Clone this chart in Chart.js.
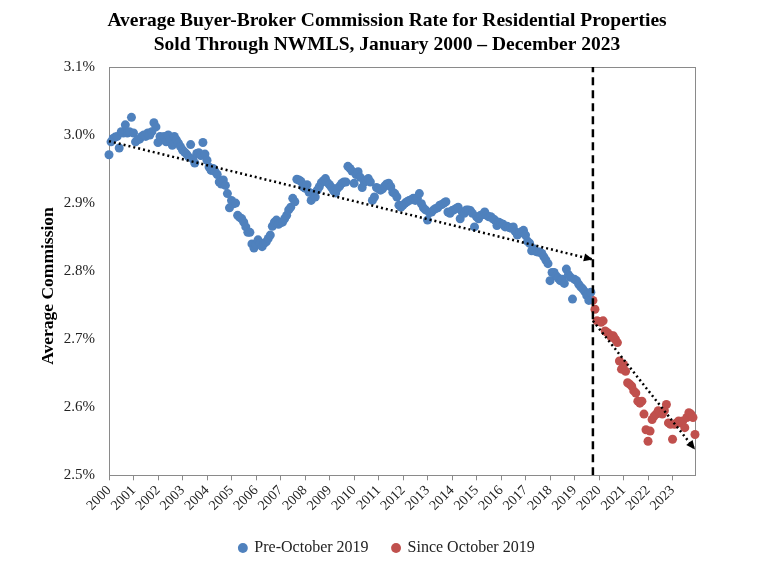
<!DOCTYPE html>
<html><head><meta charset="utf-8">
<script src="https://cdn.jsdelivr.net/npm/chart.js@4/dist/chart.umd.min.js"></script>
<style>html,body{margin:0;padding:0;background:#fff}</style>
</head><body>
<canvas id="c" width="768" height="574"></canvas>
<script>
// ---- DATA ----
const titleLines = ['Average Buyer-Broker Commission Rate for Residential Properties', 'Sold Through NWMLS, January 2000 \u2013 December 2023'];
const yAxisTitle = 'Average Commission';
const yearLabels = ['2000','2001','2002','2003','2004','2005','2006','2007','2008','2009','2010','2011','2012','2013','2014','2015','2016','2017','2018','2019','2020','2021','2022','2023'];
const lastMonth = 287;             // Dec 2023, months since Jan 2000
const preStartMonth = 0;           // Jan 2000
const preValues = [
 2.971,2.990,2.995,2.997,2.998,2.981,3.005,3.003,3.015,3.003,3.005,3.026,
 3.003,2.990,2.993,2.994,2.998,3.000,2.998,3.003,3.000,3.005,3.018,3.012,
 2.989,2.998,2.993,2.998,2.990,3.000,2.994,2.985,2.998,2.993,2.988,2.983,
 2.978,2.975,2.972,2.968,2.986,2.965,2.959,2.973,2.974,2.970,2.989,2.972,
 2.963,2.953,2.948,2.951,2.946,2.942,2.931,2.928,2.934,2.926,2.914,2.893,
 2.904,2.899,2.900,2.882,2.879,2.877,2.872,2.865,2.857,2.857,2.840,2.834,
 2.839,2.846,2.841,2.836,2.841,2.843,2.848,2.853,2.866,2.872,2.875,2.869,
 2.871,2.872,2.877,2.882,2.890,2.894,2.907,2.902,2.935,2.934,2.932,2.924,
 2.922,2.927,2.916,2.904,2.914,2.909,2.919,2.924,2.930,2.933,2.936,2.930,
 2.927,2.923,2.918,2.915,2.922,2.925,2.929,2.931,2.931,2.954,2.951,2.947,
 2.929,2.942,2.946,2.938,2.923,2.931,2.934,2.936,2.931,2.904,2.909,2.923,
 2.921,2.919,2.921,2.925,2.928,2.929,2.924,2.916,2.914,2.909,2.897,2.894,
 2.897,2.900,2.902,2.904,2.905,2.907,2.904,2.907,2.914,2.899,2.893,2.890,
 2.875,2.886,2.887,2.890,2.892,2.893,2.897,2.898,2.900,2.902,2.887,2.885,
 2.889,2.890,2.892,2.894,2.877,2.887,2.885,2.890,2.890,2.889,2.885,2.865,
 2.880,2.877,2.882,2.883,2.887,2.882,2.880,2.880,2.877,2.875,2.867,2.872,
 2.870,2.869,2.865,2.866,2.864,2.863,2.865,2.858,2.853,2.856,2.858,2.860,
 2.853,2.844,2.841,2.830,2.833,2.829,2.828,2.828,2.826,2.821,2.816,2.811,
 2.786,2.798,2.798,2.793,2.790,2.786,2.788,2.782,2.803,2.795,2.791,2.759,
 2.788,2.786,2.781,2.777,2.774,2.770,2.764,2.757,2.769
];
const postStartMonth = 237;        // Oct 2019
const postValues = [
 2.757,2.744,2.727,
 2.726,2.725,2.727,2.712,2.710,2.707,2.703,2.705,2.700,2.695,2.668,2.656,
 2.663,2.653,2.636,2.634,2.631,2.624,2.621,2.609,2.606,2.609,2.590,2.567,
 2.550,2.565,2.582,2.587,2.590,2.595,2.592,2.590,2.595,2.604,2.577,2.575,
 2.553,2.575,2.577,2.580,2.577,2.580,2.570,2.585,2.592,2.590,2.585,2.560
];
const preTrendMonths = [0, 237];
const preTrendValues = [2.991, 2.817];
const postTrendMonths = [237, 287];
const postTrendValues = [2.727, 2.538];
const dividerMonth = 237;
const yMin = 2.5, yMax = 3.1;

// ---- BUILD ----
const toPts = (start, vals) => vals.map((v, i) => ({x: start + i, y: v}));
const pair = (ms, vs) => ms.map((m, i) => ({x: m, y: vs[i]}));
const SERIF = "'Liberation Serif', 'Times New Roman', serif";
const AXIS = '#8a8a8a';

const boxPlugin = {
  id: 'box',
  beforeDatasetsDraw(chart) {
    const {ctx, chartArea: a} = chart;
    ctx.save();
    ctx.strokeStyle = AXIS; ctx.lineWidth = 1;
    ctx.strokeRect(Math.round(a.left) + 0.5, Math.round(a.top) + 0.5, Math.round(a.right - a.left), Math.round(a.bottom - a.top));
    ctx.restore();
  }
};
const arrowPlugin = {
  id: 'arrows',
  afterDatasetsDraw(chart) {
    const ctx = chart.ctx;
    [0, 1].forEach(i => {
      const pts = chart.getDatasetMeta(i).data;
      const a = pts[pts.length - 2], b = pts[pts.length - 1];
      const ang = Math.atan2(b.y - a.y, b.x - a.x);
      ctx.save();
      ctx.translate(b.x, b.y); ctx.rotate(ang);
      ctx.beginPath(); ctx.moveTo(0, 0); ctx.lineTo(-9, -4); ctx.lineTo(-9, 4); ctx.closePath();
      ctx.fillStyle = '#000'; ctx.fill();
      ctx.restore();
    });
  }
};
const textPlugin = {
  id: 'texts',
  afterDraw(chart) {
    const ctx = chart.ctx;
    const ys = chart.scales.y;
    ctx.save();
    // y tick labels, positioned by the library's y scale
    ctx.fillStyle = '#222';
    ctx.font = "15px " + SERIF;
    ctx.textAlign = 'right'; ctx.textBaseline = 'middle';
    ys.ticks.forEach(t => ctx.fillText(t.value.toFixed(1) + '%', ys.right - 14, ys.getPixelForValue(t.value)));
    // titles
    ctx.fillStyle = '#000';
    ctx.textAlign = 'center';
    ctx.font = "bold 19.5px " + SERIF;
    ctx.fillText(titleLines[0], 387, 21);
    ctx.fillText(titleLines[1], 387, 45);
    ctx.translate(48, 286); ctx.rotate(-Math.PI / 2);
    ctx.font = "bold 17.5px " + SERIF;
    ctx.fillText(yAxisTitle, 0, 0);
    ctx.restore();
  }
};

new Chart(document.getElementById('c'), {
  type: 'scatter',
  data: {
    datasets: [
      {label: 'trend1', type: 'line', data: pair(preTrendMonths, preTrendValues), borderColor: '#000', borderWidth: 2.5, borderDash: [2, 3], pointRadius: 0, fill: false, clip: false},
      {label: 'trend2', type: 'line', data: pair(postTrendMonths, postTrendValues), borderColor: '#000', borderWidth: 2.5, borderDash: [2, 3], pointRadius: 0, fill: false, clip: false},
      {label: 'divider', type: 'line', data: [{x: dividerMonth, y: yMin}, {x: dividerMonth, y: yMax}], borderColor: '#000', borderWidth: 2.5, borderDash: [8, 5], pointRadius: 0, fill: false},
      {label: 'Pre-October 2019', data: toPts(preStartMonth, preValues), backgroundColor: '#4f81bd', borderWidth: 0, pointRadius: 4.5, clip: false},
      {label: 'Since October 2019', data: toPts(postStartMonth, postValues), backgroundColor: '#c0504d', borderWidth: 0, pointRadius: 4.5, clip: false}
    ]
  },
  options: {
    responsive: false,
    animation: false,
    devicePixelRatio: 1,
    layout: {padding: {top: 67, right: 73, left: 79, bottom: 8}},
    plugins: {
      tooltip: {enabled: false},
      title: {display: false},
      legend: {
        position: 'bottom',
        labels: {
          filter: (item) => item.datasetIndex >= 3,
          usePointStyle: true, pointStyle: 'circle', boxWidth: 7, boxHeight: 7,
          font: {family: SERIF, size: 16}, color: '#222', padding: 24
        }
      }
    },
    scales: {
      x: {
        type: 'linear', min: 0, max: lastMonth,
        afterBuildTicks: (s) => { s.ticks = yearLabels.map((l, i) => ({value: i * 12})); },
        ticks: {
          autoSkip: false, maxRotation: 45, minRotation: 45, padding: 2,
          font: {family: SERIF, size: 14}, color: '#222',
          callback: (v, i) => yearLabels[i]
        },
        grid: {drawOnChartArea: false, drawTicks: true, tickLength: 5, color: AXIS},
        border: {color: AXIS}
      },
      y: {
        min: yMin, max: yMax,
        afterBuildTicks: (s) => { const t = []; for (let v = yMin; v <= yMax + 1e-9; v += 0.1) t.push({value: +v.toFixed(1)}); s.ticks = t; },
        afterFit: (s) => { s.width = 30; },
        ticks: {display: false},
        grid: {display: false, drawTicks: false},
        border: {color: AXIS},
        title: {display: false}
      }
    }
  },
  plugins: [boxPlugin, arrowPlugin, textPlugin]
});
</script>
</body></html>
